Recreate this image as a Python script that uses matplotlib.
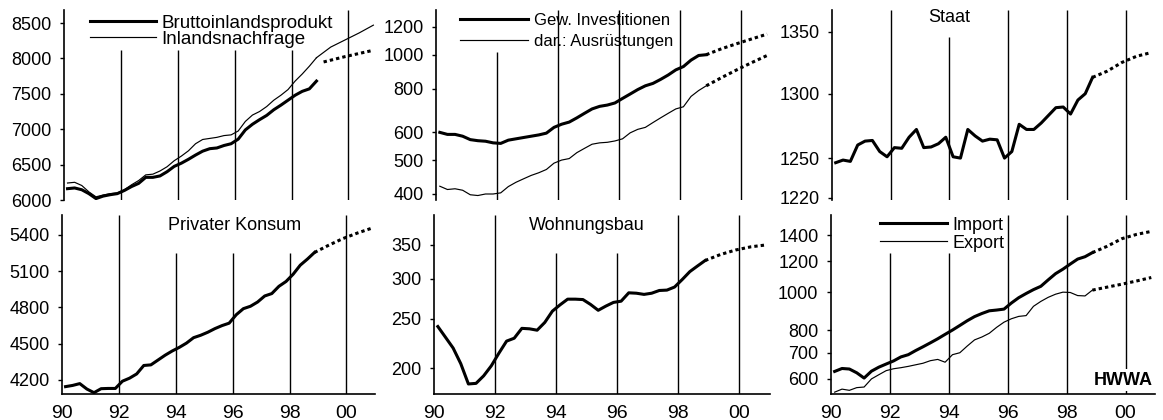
import numpy as np
import matplotlib.pyplot as plt
from matplotlib.ticker import NullLocator

plt.rcParams['font.family'] = ['Liberation Sans', 'DejaVu Sans']
plt.rcParams['font.size'] = 13

# Quartale 1990/I bis 1998/IV, Prognose halbjaehrlich bis 2000/II
t_ist = 1990.125 + 0.25 * np.arange(36)
t_prog = np.array([1998.875, 1999.375, 1999.875, 2000.375, 2000.875])
t_prog_bip = np.array([1999.125, 1999.375, 1999.875, 2000.375, 2000.875])
jahre = [1990, 1992, 1994, 1996, 1998, 2000]
jahr_labels = ['90', '92', '94', '96', '98', '00']

bip = [6160, 6170, 6145, 6090, 6020, 6055, 6075, 6090, 6135, 6190, 6235, 6320,
       6320, 6340, 6400, 6475, 6520, 6575, 6635, 6690, 6725, 6735, 6770, 6795,
       6860, 6990, 7070, 7135, 7195, 7275, 7340, 7410, 7480, 7535, 7570, 7680]
bip_prog = [7950, 7975, 8025, 8070, 8115]
inl = [6240, 6250, 6205, 6115, 6045, 6070, 6090, 6100, 6145, 6215, 6275, 6355,
       6365, 6410, 6470, 6555, 6620, 6695, 6795, 6855, 6870, 6885, 6910, 6920,
       6975, 7110, 7200, 7250, 7320, 7410, 7480, 7560, 7680, 7780, 7890, 8010]
inl_prog = [8010, 8160, 8260, 8360, 8470]

inv = [600, 592, 592, 585, 572, 568, 566, 560, 558, 570, 575, 580,
       585, 590, 597, 620, 633, 642, 660, 680, 700, 712, 718, 728,
       750, 772, 795, 815, 828, 850, 875, 905, 925, 965, 995, 1000]
inv_prog = [1000, 1040, 1075, 1110, 1145]
ausr = [421, 412, 414, 410, 398, 396, 400, 400, 403, 420, 432, 442,
        452, 460, 470, 490, 500, 505, 525, 540, 555, 560, 562, 567,
        575, 598, 612, 620, 640, 660, 680, 700, 710, 760, 790, 815]
ausr_prog = [815, 860, 905, 950, 995]

staat = [1246.5, 1248.5, 1247.5, 1260, 1263, 1263.5, 1255, 1251, 1258, 1257.5, 1266, 1272,
         1258, 1258.5, 1261, 1266, 1251, 1250, 1272, 1267, 1263, 1264.5, 1264, 1250,
         1255, 1276, 1272, 1272, 1277, 1283, 1289, 1289.5, 1284, 1295, 1300, 1313]
staat_prog = [1313, 1318, 1325, 1330, 1333]

konsum = [4145, 4155, 4170, 4125, 4095, 4128, 4130, 4130, 4190, 4215, 4250, 4320,
          4325, 4365, 4405, 4440, 4470, 4505, 4550, 4570, 4595, 4625, 4650, 4670,
          4740, 4790, 4810, 4845, 4895, 4915, 4975, 5015, 5075, 5150, 5200, 5255]
konsum_prog = [5255, 5315, 5370, 5415, 5455]

wohnbau = [241.5, 230, 219, 204, 186, 186.5, 193, 202, 214, 226, 229, 239.5,
           239, 237.5, 246, 259, 266.5, 273.5, 273.5, 273, 267, 260, 265, 269.5,
           271, 281.5, 281, 279.5, 281, 284.5, 285, 289, 299, 310, 318, 326]
wohnbau_prog = [326, 335, 342, 347, 350]

imp = [627, 638, 636, 622, 603, 628, 643, 655, 667, 683, 692, 709,
       725, 742, 760, 780, 800, 822, 845, 866, 882, 896, 900, 905,
       938, 968, 992, 1015, 1035, 1075, 1115, 1145, 1180, 1215, 1232, 1262]
imp_prog = [1262, 1310, 1370, 1405, 1430]
exp_ = [555, 565, 561, 570, 572, 600, 615, 630, 637, 641, 646, 652,
        658, 668, 673, 662, 692, 700, 728, 755, 768, 785, 813, 838,
        855, 867, 871, 920, 947, 970, 988, 1000, 998, 980, 978, 1012]
exp_prog = [1012, 1030, 1048, 1068, 1090]

dick = 2.2
duenn = 0.85
punkt = (0, (1.1, 1.0))


def panel(rect, scale, ylim, yticks, kappung, unten):
    ax = fig.add_axes(rect)
    ax.set_yscale(scale)
    ax.set_xlim(1990, 2001)
    ax.set_ylim(*ylim)
    ax.set_yticks(yticks, labels=[str(v) for v in yticks])
    ax.yaxis.set_minor_locator(NullLocator())
    ax.tick_params(axis='y', direction='out', length=3, width=1, pad=6, labelsize=13)
    for jahr, oben in zip(jahre[1:], kappung):
        ax.vlines(jahr, ylim[0], ylim[1] if oben is None else oben, color='k', lw=1.0)
    for s in ['top', 'right']:
        ax.spines[s].set_visible(False)
    ax.spines['left'].set_linewidth(1.2)
    if unten:
        ax.spines['bottom'].set_linewidth(1.2)
        ax.set_xticks(jahre, labels=jahr_labels)
        ax.tick_params(axis='x', length=0, pad=8, labelsize=14)
    else:
        ax.spines['bottom'].set_visible(False)
        ax.set_xticks([])
    return ax


fig = plt.figure(figsize=(11.63, 4.2), dpi=100)

# Bruttoinlandsprodukt / Inlandsnachfrage
ax1 = panel([0.0550, 0.5238, 0.2691, 0.4524], 'linear', (6000, 8684),
            [6000, 6500, 7000, 7500, 8000, 8500], [8120, 8120, 8120, 8120, None], False)
ax1.plot(t_ist, bip, color='k', lw=dick, label='Bruttoinlandsprodukt')
ax1.plot(t_prog_bip, bip_prog, color='k', lw=dick, ls=punkt)
ax1.plot(t_ist, inl, color='k', lw=duenn, label='Inlandsnachfrage')
ax1.plot(t_prog, inl_prog, color='k', lw=duenn)
ax1.legend(loc='upper left', bbox_to_anchor=(0.083, 0.975), frameon=False, fontsize=13.5,
           handlelength=3.5, handletextpad=0.3, borderpad=0, borderaxespad=0, labelspacing=-0.05)

# Investitionen
ax2 = panel([0.3749, 0.5238, 0.2880, 0.4524], 'log', (384.5, 1342),
            [400, 500, 600, 800, 1000, 1200], [1018, None, None, None, None], False)
ax2.plot(t_ist, inv, color='k', lw=dick, label='Gew. Investitionen')
ax2.plot(t_prog, inv_prog, color='k', lw=dick, ls=punkt)
ax2.plot(t_ist, ausr, color='k', lw=duenn, label='dar.: Ausrüstungen')
ax2.plot(t_prog, ausr_prog, color='k', lw=dick, ls=punkt)
ax2.legend(loc='upper left', bbox_to_anchor=(0.072, 0.985), frameon=False, fontsize=12,
           handlelength=4.1, handletextpad=0.35, borderpad=0, borderaxespad=0, labelspacing=0.35)

# Staat
ax3 = panel([0.7154, 0.5238, 0.2777, 0.4524], 'log', (1218.5, 1368),
            [1220, 1250, 1300, 1350], [None, 1346, None, None, None], False)
ax3.plot(t_ist, staat, color='k', lw=dick)
ax3.plot(t_prog, staat_prog, color='k', lw=dick, ls=punkt)
ax3.text(0.362, 0.962, 'Staat', transform=ax3.transAxes, ha='center', va='center', fontsize=13)

# Privater Konsum
ax4 = panel([0.0533, 0.0619, 0.2691, 0.4262], 'linear', (4084, 5565),
            [4200, 4500, 4800, 5100, 5400], [None, 5251, 5251, 5251, None], True)
ax4.plot(t_ist, konsum, color='k', lw=dick)
ax4.plot(t_prog, konsum_prog, color='k', lw=dick, ls=punkt)
ax4.text(0.55, 0.944, 'Privater Konsum', transform=ax4.transAxes, ha='center', va='center', fontsize=13)

# Wohnungsbau
ax5 = panel([0.3732, 0.0619, 0.2889, 0.4262], 'log', (177.7, 401),
            [200, 250, 300, 350], [None, 337.5, 337.5, None, None], True)
ax5.plot(t_ist, wohnbau, color='k', lw=dick)
ax5.plot(t_prog, wohnbau_prog, color='k', lw=dick, ls=punkt)
ax5.text(0.455, 0.944, 'Wohnungsbau', transform=ax5.transAxes, ha='center', va='center', fontsize=13)

# Import / Export
ax6 = panel([0.7145, 0.0619, 0.2786, 0.4262], 'log', (549, 1575),
            [600, 700, 800, 1000, 1200, 1400], [1259, 1259, None, None, None], True)
ax6.plot(t_ist, imp, color='k', lw=dick, label='Import')
ax6.plot(t_prog, imp_prog, color='k', lw=dick, ls=punkt)
ax6.plot(t_ist, exp_, color='k', lw=duenn, label='Export')
ax6.plot(t_prog, exp_prog, color='k', lw=dick, ls=punkt)
ax6.legend(loc='upper left', bbox_to_anchor=(0.151, 0.99), frameon=False, fontsize=13,
           handlelength=3.7, handletextpad=0.3, borderpad=0, borderaxespad=0, labelspacing=0.05)
ax6.text(0.994, 0.078, 'HWWA', transform=ax6.transAxes, ha='right', va='center',
         fontsize=13, fontweight='bold',
         bbox=dict(facecolor='white', edgecolor='none', pad=1.5))

fig.savefig('out.png', dpi=100)
